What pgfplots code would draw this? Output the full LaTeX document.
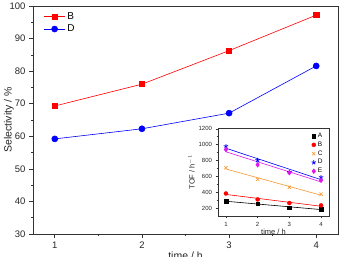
\documentclass[border=0pt]{standalone}
\usepackage{fontspec}
\setmainfont{Liberation Sans}
\usepackage{pgfplots}
\pgfplotsset{compat=1.18}
\definecolor{myorange}{RGB}{250,150,50}
\definecolor{mymag}{RGB}{225,20,235}
\definecolor{myred}{RGB}{255,0,0}
\definecolor{myblue}{RGB}{0,0,255}
\begin{document}
\begin{tikzpicture}
\begin{axis}[name=main, scale only axis, width=305pt, height=228pt, at={(0,0)}, anchor=south west,
 xmin=0.75,xmax=4.25,ymin=30,ymax=100,
 xtick={1,2,3,4}, ytick={30,40,...,100}, minor x tick num=1, minor y tick num=1,
 tick align=outside, tick pos=left,
 major tick length=4pt, minor tick length=2pt,
 axis line style={line width=0.8pt, black!80},
 every tick/.style={black!80, line width=0.6pt},
 /pgf/number format/assume math mode=true,
 tick label style={font=\fontsize{9.5}{11}\selectfont, color=black!85},
 label style={font=\fontsize{10.5}{13}\selectfont, color=black!85},
 xlabel={time / h}, ylabel={Selectivity / \%},
 ylabel style={at={(axis description cs:-0.079,0.5)}, anchor=center},
 xlabel style={at={(axis description cs:0.5,-0.097)}, anchor=center},
 legend style={draw=none, fill=none, at={(0.025,0.99)}, anchor=north west, font=\fontsize{10}{12}\selectfont, row sep=0pt},
 legend image code/.code={\draw[mark repeat=2,mark phase=2,#1] plot coordinates {(0pt,0pt) (10.5pt,0pt) (21pt,0pt)};},
 legend cell align=left,
]
\addplot[myred, line width=0.6pt, mark=square*, mark size=2.6pt, mark options={solid, fill=myred}] coordinates {(1,69.3) (2,76.0) (3,86.3) (4,97.2)};
\addlegendentry{B}
\addplot[myblue, line width=0.6pt, mark=*, mark size=3pt, mark options={solid, fill=myblue}] coordinates {(1,59.2) (2,62.3) (3,67.1) (4,81.6)};
\addlegendentry{D}
\end{axis}
\begin{axis}[name=inset, scale only axis, width=111pt, height=88pt, at={(185pt,18pt)}, anchor=south west,
 xmin=0.75,xmax=4.25,ymin=100,ymax=1210,
 xtick={1,2,3,4}, ytick={200,400,...,1200}, minor x tick num=1, minor y tick num=1,
 tick align=outside, tick pos=left,
 major tick length=2.5pt, minor tick length=1.3pt,
 axis line style={line width=0.6pt, black!80},
 every tick/.style={black!80, line width=0.5pt},
 /pgf/number format/assume math mode=true,
 /pgf/number format/1000 sep={},
 tick label style={font=\fontsize{6}{7}\selectfont, color=black!85},
 label style={font=\fontsize{7.5}{9}\selectfont, color=black!85},
 xlabel={time / h}, ylabel={TOF / h$^{-1}$},
 xlabel style={yshift=4pt}, ylabel style={yshift=-3pt},
 legend style={draw=none, fill=none, at={(0.99,0.99)}, anchor=north east, font=\fontsize{6.5}{7}\selectfont, row sep=-1.2pt},
 legend cell align=left,
]
\addplot[only marks, black, mark=square*, mark size=1.8pt] coordinates {(1,288) (2,254) (3,204) (4,188)};
\addlegendentry{A}
\addplot[only marks, myred, mark=*, mark size=2pt] coordinates {(1,384) (2,309) (3,263) (4,234)};
\addlegendentry{B}
\addplot[only marks, myorange, mark=x, mark size=2.3pt, line width=0.6pt] coordinates {(1,709) (2,563) (3,463) (4,375)};
\addlegendentry{C}
\addplot[only marks, myblue, mark=star, mark size=2.3pt, line width=0.8pt] coordinates {(1,979) (2,804) (3,654) (4,588)};
\addlegendentry{D}
\addplot[only marks, mymag, mark=diamond*, mark size=2.4pt] coordinates {(1,938) (2,746) (3,646) (4,550)};
\addlegendentry{E}
\addplot[forget plot, black, line width=0.6pt] coordinates {(1,286) (4,181)};
\addplot[forget plot, myred, line width=0.6pt] coordinates {(1,372) (4,223)};
\addplot[forget plot, myorange, line width=0.6pt] coordinates {(1,693) (4,362)};
\addplot[forget plot, myblue, line width=0.6pt] coordinates {(1,955) (4,558)};
\addplot[forget plot, mymag, line width=0.6pt] coordinates {(1,910) (4,530)};
\end{axis}
\pgfresetboundingbox
\path (-33pt,-23pt) rectangle (307pt,234pt);
\end{tikzpicture}
\end{document}
